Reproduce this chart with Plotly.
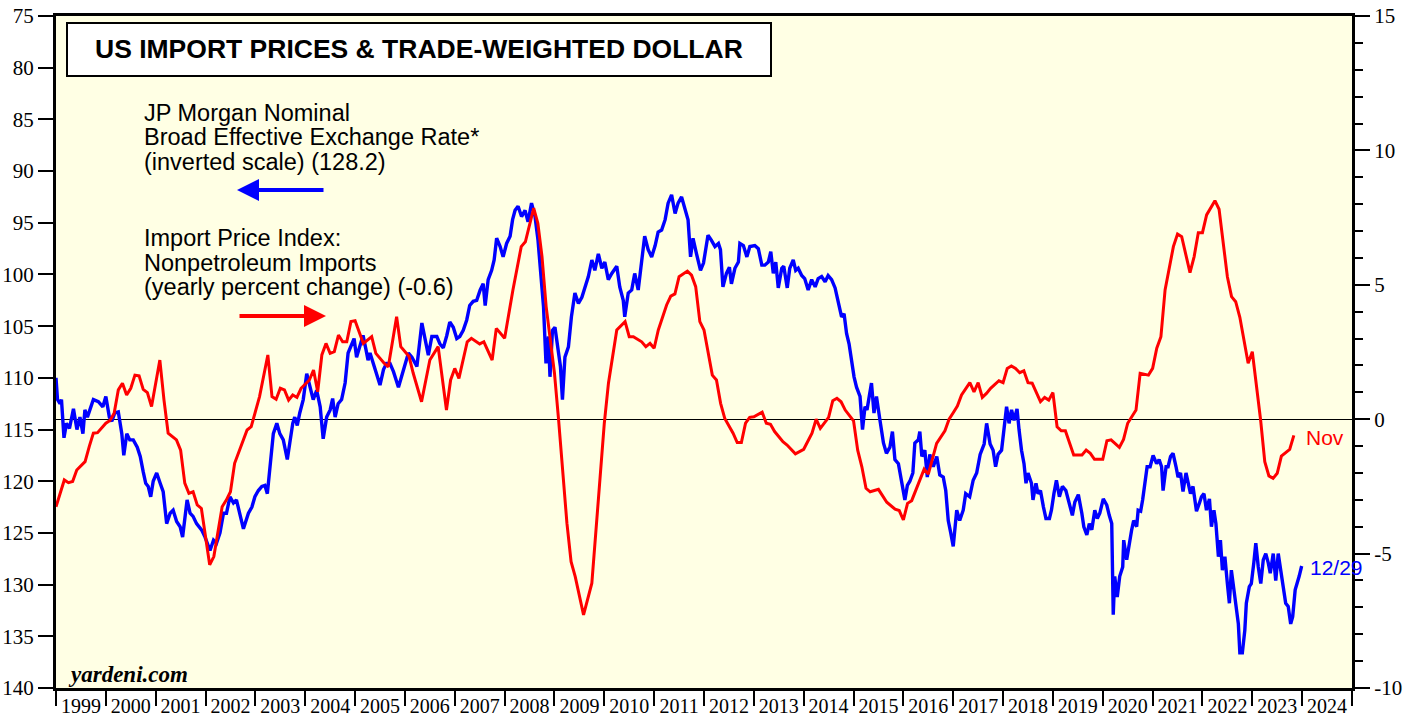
import plotly.graph_objects as go

# ---------------- data ----------------
# JP Morgan nominal broad effective exchange rate (left axis, inverted), decimal-year dates
blue_t = [1999.00, 1999.03, 1999.08, 1999.11, 1999.16, 1999.21, 1999.27, 1999.35, 1999.42, 1999.48,
          1999.54, 1999.58, 1999.63, 1999.75, 1999.85, 1999.94, 2000.00, 2000.07, 2000.12, 2000.18,
          2000.25, 2000.32, 2000.36, 2000.42, 2000.48, 2000.55, 2000.63, 2000.69, 2000.75, 2000.80,
          2000.85, 2000.90, 2000.95, 2001.02, 2001.09, 2001.15, 2001.22, 2001.29, 2001.35, 2001.42,
          2001.49, 2001.54, 2001.63, 2001.69, 2001.75, 2001.82, 2001.92, 2001.99, 2002.09, 2002.16,
          2002.22, 2002.29, 2002.36, 2002.42, 2002.49, 2002.56, 2002.62, 2002.68, 2002.76, 2002.86,
          2002.93, 2002.99, 2003.06, 2003.13, 2003.19, 2003.24, 2003.29, 2003.36, 2003.43, 2003.49,
          2003.56, 2003.64, 2003.69, 2003.75, 2003.79, 2003.84, 2003.89, 2003.96, 2004.03, 2004.10,
          2004.16, 2004.23, 2004.30, 2004.36, 2004.43, 2004.50, 2004.55, 2004.60, 2004.66, 2004.73,
          2004.80, 2004.86, 2004.93, 2004.98, 2005.03, 2005.10, 2005.16, 2005.22, 2005.26, 2005.30,
          2005.40, 2005.50, 2005.57, 2005.63, 2005.70, 2005.77, 2005.87, 2005.93, 2006.00, 2006.07,
          2006.14, 2006.24, 2006.34, 2006.40, 2006.47, 2006.54, 2006.64, 2006.70, 2006.77, 2006.84,
          2006.90, 2006.97, 2007.04, 2007.10, 2007.17, 2007.24, 2007.30, 2007.37, 2007.44, 2007.51,
          2007.57, 2007.61, 2007.67, 2007.74, 2007.79, 2007.84, 2007.91, 2007.97, 2008.04, 2008.11,
          2008.16, 2008.21, 2008.27, 2008.34, 2008.41, 2008.47, 2008.54, 2008.61, 2008.67, 2008.72,
          2008.78, 2008.83, 2008.88, 2008.91, 2008.96, 2009.01, 2009.08, 2009.12, 2009.16, 2009.21,
          2009.28, 2009.34, 2009.41, 2009.48, 2009.55, 2009.61, 2009.68, 2009.75, 2009.81, 2009.88,
          2009.95, 2010.01, 2010.08, 2010.15, 2010.25, 2010.31, 2010.38, 2010.41, 2010.48, 2010.55,
          2010.61, 2010.68, 2010.75, 2010.81, 2010.88, 2010.95, 2011.02, 2011.08, 2011.15, 2011.22,
          2011.28, 2011.35, 2011.42, 2011.48, 2011.55, 2011.62, 2011.68, 2011.73, 2011.78, 2011.85,
          2011.93, 2011.99, 2012.08, 2012.15, 2012.22, 2012.29, 2012.33, 2012.38, 2012.45, 2012.51,
          2012.55, 2012.62, 2012.69, 2012.72, 2012.79, 2012.86, 2012.92, 2013.02, 2013.09, 2013.16,
          2013.22, 2013.29, 2013.34, 2013.39, 2013.44, 2013.49, 2013.56, 2013.60, 2013.67, 2013.72,
          2013.79, 2013.84, 2013.89, 2013.96, 2014.02, 2014.09, 2014.16, 2014.23, 2014.29, 2014.36,
          2014.43, 2014.49, 2014.56, 2014.63, 2014.69, 2014.76, 2014.81, 2014.86, 2014.91, 2014.96,
          2015.01, 2015.06, 2015.13, 2015.18, 2015.23, 2015.27, 2015.33, 2015.36, 2015.41, 2015.46,
          2015.53, 2015.60, 2015.66, 2015.73, 2015.78, 2015.83, 2015.90, 2015.96, 2016.03, 2016.08,
          2016.13, 2016.19, 2016.23, 2016.30, 2016.33, 2016.37, 2016.43, 2016.48, 2016.53, 2016.60,
          2016.67, 2016.73, 2016.80, 2016.85, 2016.90, 2016.95, 2017.00, 2017.07, 2017.13, 2017.20,
          2017.25, 2017.33, 2017.40, 2017.47, 2017.54, 2017.62, 2017.67, 2017.74, 2017.80, 2017.85,
          2017.90, 2017.97, 2018.02, 2018.07, 2018.12, 2018.17, 2018.22, 2018.28, 2018.32, 2018.37,
          2018.42, 2018.46, 2018.50, 2018.57, 2018.60, 2018.66, 2018.70, 2018.75, 2018.81, 2018.86,
          2018.93, 2018.97, 2019.02, 2019.07, 2019.13, 2019.19, 2019.26, 2019.33, 2019.39, 2019.44,
          2019.51, 2019.58, 2019.62, 2019.68, 2019.73, 2019.78, 2019.84, 2019.89, 2019.94, 2020.01,
          2020.08, 2020.13, 2020.18, 2020.21, 2020.24, 2020.29, 2020.34, 2020.40, 2020.42, 2020.48,
          2020.53, 2020.58, 2020.62, 2020.68, 2020.71, 2020.76, 2020.80, 2020.85, 2020.89, 2020.95,
          2021.01, 2021.08, 2021.13, 2021.18, 2021.21, 2021.27, 2021.31, 2021.36, 2021.41, 2021.47,
          2021.51, 2021.56, 2021.61, 2021.67, 2021.71, 2021.76, 2021.81, 2021.88, 2021.94, 2021.98,
          2022.03, 2022.08, 2022.14, 2022.18, 2022.23, 2022.27, 2022.32, 2022.36, 2022.40, 2022.45,
          2022.50, 2022.54, 2022.58, 2022.63, 2022.67, 2022.72, 2022.75, 2022.80, 2022.85, 2022.88,
          2022.94, 2022.98, 2023.03, 2023.07, 2023.12, 2023.17, 2023.22, 2023.27, 2023.32, 2023.36,
          2023.42, 2023.47, 2023.52, 2023.57, 2023.62, 2023.67, 2023.72, 2023.77, 2023.81, 2023.86,
          2023.90, 2023.94, 2023.99]
blue_v = [110.0, 112.1, 112.5, 112.1, 115.8, 114.4, 114.9, 113.0, 115.0, 113.8,
          115.4, 113.1, 113.8, 112.1, 112.3, 112.8, 111.8, 113.8, 114.2, 113.4,
          113.3, 115.4, 117.5, 115.4, 116.0, 116.0, 116.7, 117.6, 119.1, 120.2,
          120.5, 121.5, 120.0, 119.2, 120.2, 121.0, 124.1, 123.1, 122.8, 123.9,
          124.4, 125.4, 121.8, 123.1, 123.4, 124.1, 124.7, 125.4, 126.7, 125.7,
          126.0, 125.0, 123.1, 123.1, 121.5, 122.1, 121.8, 123.1, 124.6, 123.1,
          122.5, 121.5, 120.9, 120.5, 120.4, 121.2, 118.6, 115.4, 114.4, 115.4,
          116.0, 117.9, 116.3, 114.4, 113.8, 114.6, 113.4, 112.1, 109.6, 110.9,
          112.1, 111.2, 112.8, 115.9, 113.8, 113.1, 112.0, 113.8, 112.5, 112.1,
          110.5, 107.6, 106.7, 106.2, 108.0, 107.0, 105.9, 107.3, 108.3, 107.6,
          109.2, 110.7, 109.2, 108.6, 108.6, 109.4, 110.9, 109.9, 108.6, 107.6,
          108.0, 108.9, 104.7, 106.3, 107.8, 106.0, 106.0, 106.7, 107.1, 105.9,
          104.6, 105.1, 106.2, 106.0, 105.4, 104.4, 103.0, 102.6, 102.5, 101.5,
          100.9, 103.0, 100.5, 99.6, 98.6, 96.5, 97.3, 98.3, 97.0, 96.3,
          94.7, 93.8, 93.4, 94.4, 93.8, 94.9, 93.1, 94.4, 96.7, 99.6,
          103.1, 108.6, 106.0, 109.9, 105.4, 105.1, 107.3, 108.9, 112.1, 108.0,
          107.0, 104.1, 101.8, 102.8, 102.2, 101.2, 100.2, 98.6, 99.6, 98.0,
          99.4, 98.8, 100.5, 99.9, 99.2, 101.2, 102.5, 104.1, 101.8, 101.5,
          99.9, 101.5, 98.3, 96.3, 97.6, 98.3, 97.2, 95.9, 95.7, 94.7,
          93.1, 92.3, 94.1, 93.1, 92.5, 93.6, 94.7, 98.3, 96.5, 98.0,
          99.6, 98.9, 96.2, 96.7, 97.3, 97.0, 97.6, 101.2, 99.9, 99.3,
          100.9, 99.4, 98.8, 97.0, 97.2, 98.3, 97.3, 97.2, 97.5, 99.1,
          99.1, 98.8, 97.8, 99.9, 98.8, 101.3, 99.4, 99.2, 101.3, 99.4,
          98.6, 99.6, 99.4, 100.1, 100.4, 101.5, 100.5, 101.2, 100.4, 100.2,
          100.7, 100.1, 100.5, 101.3, 102.5, 104.1, 103.8, 105.7, 106.7, 108.6,
          109.9, 110.9, 111.8, 115.0, 112.8, 113.1, 111.5, 110.5, 113.4, 111.8,
          114.1, 116.3, 117.3, 116.7, 115.2, 117.9, 118.3, 119.9, 121.8, 120.4,
          120.0, 119.2, 116.3, 116.0, 115.2, 117.6, 117.0, 119.6, 117.4, 118.6,
          117.6, 119.4, 119.6, 120.9, 123.8, 125.0, 126.3, 122.8, 123.8, 122.8,
          121.2, 121.5, 119.9, 119.2, 117.4, 116.4, 114.4, 116.4, 117.0, 118.6,
          117.4, 117.0, 115.0, 112.8, 114.4, 113.1, 114.1, 113.0, 115.0, 117.0,
          118.3, 120.2, 119.2, 120.2, 121.8, 120.2, 121.2, 120.9, 122.5, 123.6,
          123.6, 122.8, 121.2, 119.9, 121.5, 120.5, 120.9, 122.1, 123.3, 122.0,
          121.3, 123.1, 124.4, 125.2, 124.1, 124.7, 122.8, 123.6, 123.1, 121.7,
          122.3, 123.3, 124.1, 132.9, 129.2, 131.2, 129.2, 128.3, 125.7, 127.6,
          126.0, 124.7, 123.8, 124.4, 122.8, 122.9, 121.8, 120.2, 118.6, 118.6,
          117.5, 118.3, 117.9, 118.6, 120.9, 118.6, 118.6, 117.6, 117.3, 118.6,
          119.6, 119.2, 121.0, 119.2, 120.2, 121.2, 120.5, 122.9, 122.1, 121.5,
          121.2, 122.8, 121.7, 124.4, 122.8, 124.1, 127.3, 125.7, 128.6, 127.3,
          129.9, 131.8, 128.6, 130.5, 131.8, 133.8, 136.6, 136.6, 134.4, 131.8,
          130.2, 129.9, 127.9, 126.0, 128.3, 129.9, 127.6, 127.0, 127.9, 128.9,
          127.0, 129.6, 127.0, 128.9, 130.2, 131.8, 132.1, 133.8, 133.1, 130.5,
          129.9, 129.2, 128.2]

# Import price index: nonpetroleum imports, yearly % change (right axis)
red_dates = ["1999-01", "1999-03", "1999-04", "1999-05", "1999-06", "1999-08", "1999-09", "1999-10", "1999-11",
             "2000-01", "2000-02", "2000-03", "2000-04", "2000-05", "2000-06", "2000-07", "2000-08", "2000-09",
             "2000-10", "2000-11", "2000-12", "2001-02", "2001-03", "2001-04", "2001-06", "2001-07", "2001-08",
             "2001-09", "2001-10", "2001-11", "2001-12", "2002-02", "2002-03", "2002-05", "2002-06", "2002-07",
             "2002-08", "2002-09", "2002-10", "2002-11", "2002-12", "2003-02", "2003-04", "2003-05", "2003-06",
             "2003-07", "2003-08", "2003-09", "2003-10", "2003-11", "2003-12", "2004-02", "2004-03", "2004-04",
             "2004-05", "2004-06", "2004-07", "2004-08", "2004-09", "2004-10", "2004-11", "2004-12", "2005-01",
             "2005-03", "2005-05", "2005-06", "2005-08", "2005-09", "2005-11", "2005-12", "2006-02", "2006-03",
             "2006-05", "2006-07", "2006-09", "2006-11", "2006-12", "2007-01", "2007-02", "2007-04", "2007-05",
             "2007-07", "2007-08", "2007-10", "2007-11", "2008-01", "2008-03", "2008-05", "2008-06", "2008-08",
             "2008-09", "2008-10", "2008-11", "2009-01", "2009-02", "2009-03", "2009-04", "2009-05", "2009-06",
             "2009-08", "2009-10", "2009-11", "2010-01", "2010-02", "2010-03", "2010-04", "2010-06", "2010-07",
             "2010-08", "2010-10", "2010-11", "2010-12", "2011-01", "2011-02", "2011-04", "2011-05", "2011-06",
             "2011-07", "2011-09", "2011-10", "2011-11", "2011-12", "2012-01", "2012-03", "2012-04", "2012-05",
             "2012-06", "2012-08", "2012-09", "2012-10", "2012-11", "2012-12", "2013-01", "2013-03", "2013-04",
             "2013-05", "2013-06", "2013-07", "2013-08", "2013-09", "2013-11", "2014-01", "2014-03", "2014-04",
             "2014-05", "2014-07", "2014-08", "2014-09", "2014-10", "2014-11", "2015-01", "2015-02", "2015-03",
             "2015-04", "2015-05", "2015-07", "2015-09", "2015-11", "2015-12", "2016-01", "2016-02", "2016-03",
             "2016-05", "2016-06", "2016-07", "2016-09", "2016-11", "2016-12", "2017-01", "2017-02", "2017-03",
             "2017-05", "2017-06", "2017-07", "2017-08", "2017-09", "2017-10", "2017-12", "2018-01", "2018-02",
             "2018-03", "2018-04", "2018-05", "2018-06", "2018-07", "2018-08", "2018-10", "2018-11", "2018-12",
             "2019-01", "2019-02", "2019-03", "2019-04", "2019-06", "2019-08", "2019-09", "2019-10", "2019-11",
             "2020-01", "2020-02", "2020-03", "2020-05", "2020-06", "2020-07", "2020-09", "2020-10", "2020-12",
             "2021-01", "2021-02", "2021-03", "2021-04", "2021-06", "2021-07", "2021-08", "2021-10", "2021-11",
             "2021-12", "2022-01", "2022-02", "2022-04", "2022-05", "2022-07", "2022-08", "2022-09", "2022-10",
             "2022-12", "2023-01", "2023-02", "2023-03", "2023-04", "2023-05", "2023-06", "2023-07", "2023-08",
             "2023-09", "2023-10", "2023-11"]
red_v = [-3.26, -2.26, -2.36, -2.32, -1.89, -1.58, -1.02, -0.52, -0.50,
         -0.15, -0.05, 0.22, 1.09, 1.34, 0.90, 1.15, 1.64, 1.61,
         1.11, 0.99, 0.47, 2.20, 0.71, -0.52, -0.77, -1.15, -2.38,
         -2.76, -2.70, -3.19, -3.32, -5.42, -5.11, -3.26, -3.01, -2.70,
         -1.64, -1.21, -0.77, -0.40, -0.28, 0.84, 2.39, 0.84, 0.74,
         1.15, 1.09, 0.71, 0.90, 0.81, 1.15, 1.46, 1.83, 1.02,
         2.39, 2.82, 2.45, 2.51, 3.13, 2.88, 2.88, 3.63, 3.66,
         2.82, 3.07, 2.45, 2.08, 1.95, 3.81, 2.70, 2.33, 1.71,
         0.65, 2.20, 2.70, 0.34, 1.46, 1.89, 1.52, 2.88, 3.01,
         2.80, 2.88, 2.20, 3.38, 3.01, 4.81, 6.42, 6.60, 7.85,
         7.29, 6.05, 4.19, 1.71, -0.03, -1.89, -3.87, -5.30, -5.86,
         -7.28, -6.10, -4.12, -0.15, 1.34, 2.33, 3.32, 3.63, 3.07,
         3.07, 2.88, 2.70, 2.82, 2.64, 3.32, 4.25, 4.58, 4.66,
         5.30, 5.51, 5.36, 4.93, 3.63, 3.32, 1.64, 1.46, 0.59,
         0.03, -0.52, -0.87, -0.87, -0.15, 0.07, 0.09, 0.26, -0.15,
         -0.19, -0.46, -0.63, -0.84, -0.96, -1.29, -1.12, -0.52, 0.00,
         -0.34, 0.07, 0.69, 0.78, 0.65, 0.34, -0.06, -1.15, -1.77,
         -2.57, -2.70, -2.61, -3.09, -3.35, -3.40, -3.75, -3.13, -3.03,
         -2.26, -1.86, -2.04, -0.90, -0.43, 0.00, 0.24, 0.49, 0.90,
         1.36, 1.02, 1.36, 0.81, 0.96, 1.15, 1.43, 1.36, 1.89,
         1.98, 1.89, 1.73, 1.80, 1.36, 1.34, 0.65, 0.81, 0.71,
         0.99, -0.28, -0.43, -0.43, -1.33, -1.33, -1.15, -1.27, -1.49,
         -1.49, -0.80, -0.77, -1.05, -0.75, -0.15, 0.34, 1.71, 1.64,
         1.89, 2.64, 3.07, 4.81, 6.42, 6.89, 6.79, 5.45, 6.05,
         6.94, 6.94, 7.60, 8.13, 7.81, 5.30, 4.56, 4.37, 3.79,
         2.08, 2.51, 1.34, -0.03, -1.58, -2.11, -2.20, -2.01, -1.37,
         -1.24, -1.12, -0.60]

years = list(range(1999, 2025))
left_ticks = [75, 80, 85, 90, 95, 100, 105, 110, 115, 120, 125, 130, 135, 140]
right_ticks = [-10, -5, 0, 5, 10, 15]

title_text = "US IMPORT PRICES & TRADE-WEIGHTED DOLLAR"
blue_label = ["JP Morgan Nominal", "Broad Effective Exchange Rate*", "(inverted scale) (128.2)"]
red_label = ["Import Price Index:", "Nonpetroleum Imports", "(yearly percent change) (-0.6)"]

# ---------------- geometry helpers (pixel -> paper) ----------------
W, H = 1422, 717
L, R, T, B = 56, 70, 16, 29
PW, PH = W - L - R, H - T - B


def px(x):
    return (x - L) / PW


def py(y):
    return (H - B - y) / PH


red_x = [int(d[:4]) + (int(d[5:7]) - 1) / 12 for d in red_dates]

BLUE = "#0000FF"
RED = "#FF0000"
SERIF = "Liberation Serif"
SANS = "Liberation Sans"

fig = go.Figure()
fig.add_trace(go.Scatter(x=blue_t, y=blue_v, mode="lines", yaxis="y",
                         line=dict(color=BLUE, width=3.4), hoverinfo="skip", showlegend=False))
fig.add_trace(go.Scatter(x=red_x, y=red_v, mode="lines", yaxis="y2",
                         line=dict(color=RED, width=3), hoverinfo="skip", showlegend=False))

fig.update_layout(
    width=W, height=H,
    margin=dict(l=L, r=R, t=T, b=B, autoexpand=False),
    paper_bgcolor="white",
    plot_bgcolor="#FFFFE4",
    showlegend=False,
    xaxis=dict(
        range=[1999, 2025], tickmode="array", automargin=False,
        tickvals=[y + 0.5 for y in years], ticktext=[str(y) for y in years],
        ticks="", ticklabelstandoff=-2,
        showline=True, linecolor="black", linewidth=3, mirror=True,
        showgrid=False, zeroline=False,
        tickfont=dict(family=SERIF, size=20, color="black"),
        minor=dict(tickmode="linear", tick0=1999, dtick=1, ticks="outside",
                   ticklen=15, tickwidth=2, tickcolor="black", showgrid=False),
    ),
    yaxis=dict(
        range=[140, 75], tickmode="array", tickvals=left_ticks, automargin=False,
        ticktext=[str(v) for v in left_ticks],
        ticks="outside", ticklen=15, tickwidth=2, tickcolor="black",
        showline=True, linecolor="black", linewidth=3,
        showgrid=False, zeroline=False,
        tickfont=dict(family=SERIF, size=21, color="black"),
    ),
    yaxis2=dict(
        overlaying="y", side="right", range=[-10, 15], tickmode="array", automargin=False,
        tickvals=right_ticks, ticktext=[str(v) for v in right_ticks],
        ticks="outside", ticklen=15, tickwidth=2, tickcolor="black",
        minor=dict(tickmode="linear", tick0=0, dtick=1, ticks="outside",
                   ticklen=8, tickwidth=2, tickcolor="black", showgrid=False),
        showline=True, linecolor="black", linewidth=3,
        showgrid=False, zeroline=True, zerolinecolor="black", zerolinewidth=1,
        tickfont=dict(family=SERIF, size=21, color="black"),
    ),
)

# title box
fig.add_shape(type="rect", xref="paper", yref="paper",
              x0=px(67), x1=px(771), y0=py(76), y1=py(23),
              fillcolor="white", line=dict(color="black", width=2), layer="above")

annotations = [
    dict(x=px(419), y=py(49), text="<b>" + title_text + "</b>", xanchor="center", yanchor="middle",
         font=dict(family=SANS, size=26.5, color="black")),
    dict(x=px(66), y=py(674), text="<b><i>yardeni.com</i></b>", xanchor="left", yanchor="middle",
         font=dict(family=SERIF, size=23, color="black")),
    dict(x=px(1304), y=py(437), text="Nov", xanchor="left", yanchor="middle",
         font=dict(family=SANS, size=21, color=RED)),
    dict(x=px(1308), y=py(567), text="12/29", xanchor="left", yanchor="middle",
         font=dict(family=SANS, size=21, color=BLUE)),
]
for i, t in enumerate(blue_label):
    annotations.append(dict(x=px(142), y=py(113 + 24.5 * i), text=t, xanchor="left", yanchor="middle",
                            font=dict(family=SANS, size=23.5, color="black")))
for i, t in enumerate(red_label):
    annotations.append(dict(x=px(142), y=py(238 + 24.5 * i), text=t, xanchor="left", yanchor="middle",
                            font=dict(family=SANS, size=23.5, color="black")))
# arrows
annotations.append(dict(x=px(237), y=py(190), ax=88, ay=0, text="", showarrow=True,
                        arrowhead=2, arrowsize=1.1, arrowwidth=4, arrowcolor=BLUE))
annotations.append(dict(x=px(326), y=py(316), ax=-88, ay=0, text="", showarrow=True,
                        arrowhead=2, arrowsize=1.1, arrowwidth=4, arrowcolor=RED))

for a in annotations:
    a.setdefault("xref", "paper")
    a.setdefault("yref", "paper")
    a.setdefault("showarrow", False)
fig.update_layout(annotations=annotations)

fig.write_html("out.html", config={"displayModeBar": False},
               post_script="document.body.style.margin='0';")
